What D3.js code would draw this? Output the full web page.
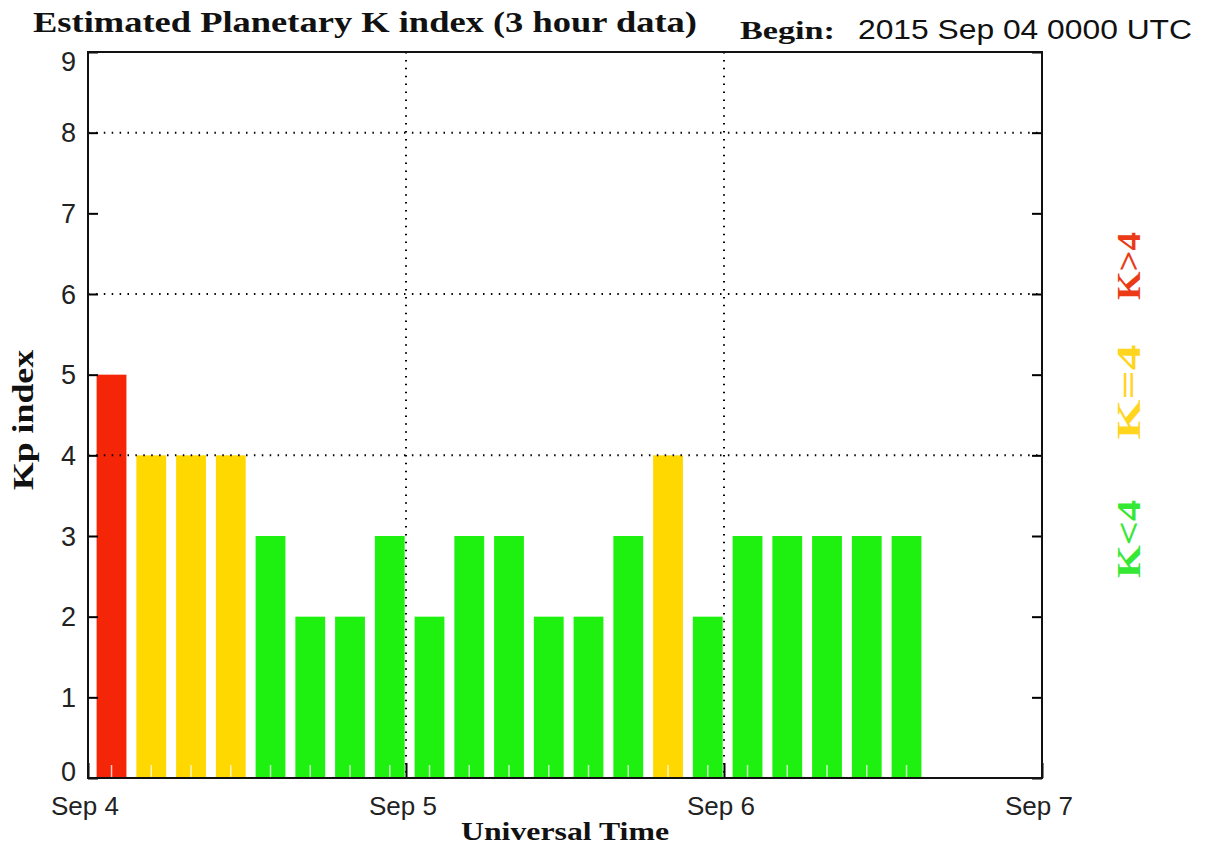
<!DOCTYPE html>
<html>
<head>
<meta charset="utf-8">
<script src="https://cdn.jsdelivr.net/npm/d3@7"></script>
<style>
  body { margin: 0; background: #fff; }
  svg { display: block; }
  .serif { font-family: "Liberation Serif", "DejaVu Serif", serif; font-weight: bold; }
  .sans { font-family: "Liberation Sans", "DejaVu Sans", sans-serif; }
</style>
</head>
<body>
<div class="chart"></div>
<script>
"use strict";

// data
const slots = [
  "2015-09-04T00:00Z", "2015-09-04T03:00Z", "2015-09-04T06:00Z", "2015-09-04T09:00Z",
  "2015-09-04T12:00Z", "2015-09-04T15:00Z", "2015-09-04T18:00Z", "2015-09-04T21:00Z",
  "2015-09-05T00:00Z", "2015-09-05T03:00Z", "2015-09-05T06:00Z", "2015-09-05T09:00Z",
  "2015-09-05T12:00Z", "2015-09-05T15:00Z", "2015-09-05T18:00Z", "2015-09-05T21:00Z",
  "2015-09-06T00:00Z", "2015-09-06T03:00Z", "2015-09-06T06:00Z", "2015-09-06T09:00Z",
  "2015-09-06T12:00Z"
];
const kp = [5, 4, 4, 4, 3, 2, 2, 3, 2, 3, 3, 2, 2, 3, 4, 2, 3, 3, 3, 3, 3];
const dayTicks = ["2015-09-04T00:00Z", "2015-09-05T00:00Z", "2015-09-06T00:00Z", "2015-09-07T00:00Z"];
const dayLabels = ["Sep 4", "Sep 5", "Sep 6", "Sep 7"];
const yTicks = [0, 1, 2, 3, 4, 5, 6, 7, 8, 9];
const yGrid = [4, 6, 8];
const legendItems = ["K>4", "K=4", "K<4"];

const W = 1207, H = 850;
const MARGIN = { top: 52, right: 165, bottom: 72, left: 88 };
const WIDTH = W - MARGIN.left - MARGIN.right,
  HEIGHT = H - MARGIN.top - MARGIN.bottom;

const HOUR = 3600 * 1000;
const parse = (s) => new Date(s);

const xScale = d3.scaleUtc()
  .domain([parse(dayTicks[0]), parse(dayTicks[3])])
  .range([0, WIDTH]);
const yScale = d3.scaleLinear().domain([0, 9]).range([HEIGHT, 0]);

const RED = "#f52507", YELLOW = "#ffd800", GREEN = "#1ef00f";
const colorOf = (v) => (v > 4 ? RED : v === 4 ? YELLOW : GREEN);
const legendColor = d3.scaleOrdinal().domain(legendItems).range(["#ea3a16", "#ffd51e", "#35e833"]);

const root = d3.select(".chart").append("svg").attr("width", W).attr("height", H);

// titles
root.append("text").attr("class", "serif")
  .attr("x", 33).attr("y", 32)
  .attr("font-size", 29).attr("textLength", 664).attr("lengthAdjust", "spacingAndGlyphs")
  .attr("fill", "#111")
  .text("Estimated Planetary K index (3 hour data)");
root.append("text").attr("class", "serif")
  .attr("x", 740).attr("y", 39)
  .attr("font-size", 25).attr("textLength", 95).attr("lengthAdjust", "spacingAndGlyphs")
  .attr("fill", "#111")
  .text("Begin:");
root.append("text").attr("class", "sans")
  .attr("x", 858).attr("y", 39)
  .attr("font-size", 27).attr("textLength", 334).attr("lengthAdjust", "spacingAndGlyphs")
  .attr("fill", "#111")
  .text("2015 Sep 04 0000 UTC");

const svg = root.append("g")
  .attr("transform", "translate(" + MARGIN.left + "," + MARGIN.top + ")");

// bars
const data = slots.map((s, i) => ({ t: parse(s), v: kp[i] }));
const x0 = (d) => xScale(new Date(+d.t + 0.65 * HOUR));
const x1 = (d) => xScale(new Date(+d.t + 2.9 * HOUR));

svg.selectAll("rect.bar")
  .data(data)
  .enter()
  .append("rect")
  .attr("class", "bar")
  .attr("x", x0)
  .attr("width", (d) => x1(d) - x0(d))
  .attr("y", (d) => yScale(d.v))
  .attr("height", (d) => HEIGHT - yScale(d.v))
  .style("fill", (d) => colorOf(d.v));

// pale minor ticks at bar centres
svg.selectAll("line.minor")
  .data(data)
  .enter()
  .append("line")
  .attr("x1", (d) => (x0(d) + x1(d)) / 2)
  .attr("x2", (d) => (x0(d) + x1(d)) / 2)
  .attr("y1", HEIGHT - 13)
  .attr("y2", HEIGHT)
  .style("stroke", "rgba(255,255,255,0.75)")
  .style("stroke-width", 1.5);

// dotted grid
svg.selectAll("line.hgrid")
  .data(yGrid)
  .enter()
  .append("line")
  .attr("x1", 0).attr("x2", WIDTH)
  .attr("y1", (d) => yScale(d)).attr("y2", (d) => yScale(d))
  .style("stroke", "#000").style("stroke-width", 2)
  .style("stroke-dasharray", "1.5,6.4");

svg.selectAll("line.vgrid")
  .data(dayTicks.slice(1, 3))
  .enter()
  .append("line")
  .attr("x1", (d) => xScale(parse(d))).attr("x2", (d) => xScale(parse(d)))
  .attr("y1", 0).attr("y2", HEIGHT)
  .style("stroke", "#000").style("stroke-width", 2)
  .style("stroke-dasharray", "1.5,6.4");

// axes (ticks point inward)
svg.append("g")
  .call(d3.axisLeft(yScale).tickValues(yTicks).tickSize(-10).tickFormat(""))
  .call((g) => g.select(".domain").remove())
  .selectAll("line").style("stroke-width", 2);
svg.append("g")
  .attr("transform", `translate(${WIDTH},0)`)
  .call(d3.axisRight(yScale).tickValues(yTicks).tickSize(-10).tickFormat(""))
  .call((g) => g.select(".domain").remove())
  .selectAll("line").style("stroke-width", 2);
svg.append("g")
  .attr("transform", `translate(0,${HEIGHT})`)
  .call(d3.axisBottom(xScale).tickValues(dayTicks.map(parse)).tickSize(-15).tickFormat(""))
  .call((g) => g.select(".domain").remove())
  .selectAll("line").style("stroke-width", 2);

// frame
svg.append("rect")
  .attr("width", WIDTH).attr("height", HEIGHT)
  .style("fill", "none").style("stroke", "#111").style("stroke-width", 2);

// y tick labels (kept inside the frame height)
svg.selectAll("text.ylab")
  .data(yTicks)
  .enter()
  .append("text")
  .attr("class", "sans")
  .attr("x", -12)
  .attr("y", (d) => Math.min(HEIGHT - 7, Math.max(9, yScale(d))))
  .attr("dy", "0.36em")
  .attr("text-anchor", "end")
  .attr("font-size", 27)
  .attr("fill", "#222")
  .text((d) => d);

// x tick labels
svg.selectAll("text.xlab")
  .data(dayTicks)
  .enter()
  .append("text")
  .attr("class", "sans")
  .attr("x", (d) => xScale(parse(d)) - 3)
  .attr("y", HEIGHT + 37)
  .attr("text-anchor", "middle")
  .attr("font-size", 26)
  .attr("fill", "#222")
  .text((d, i) => dayLabels[i]);

// axis titles
svg.append("text").attr("class", "serif")
  .attr("x", WIDTH / 2).attr("y", HEIGHT + 62)
  .attr("text-anchor", "middle").attr("font-size", 26)
  .attr("textLength", 208).attr("lengthAdjust", "spacingAndGlyphs")
  .attr("fill", "#111")
  .text("Universal Time");
svg.append("text").attr("class", "serif")
  .attr("transform", `translate(-55,${yScale(4.5) + 5}) rotate(-90)`)
  .attr("text-anchor", "middle").attr("font-size", 29)
  .attr("textLength", 140).attr("lengthAdjust", "spacingAndGlyphs")
  .attr("fill", "#111")
  .text("Kp index");

// legend on the right, read bottom-up
const legendY = [266, 392, 539];
const legendLen = [68, 95, 78];
root.selectAll("text.legend")
  .data(legendItems)
  .enter()
  .append("text")
  .attr("class", "serif")
  .attr("transform", (d, i) => `translate(1140,${legendY[i]}) rotate(-90)`)
  .attr("text-anchor", "middle")
  .attr("font-size", 34)
  .attr("textLength", (d, i) => legendLen[i])
  .attr("lengthAdjust", "spacingAndGlyphs")
  .style("fill", (d) => legendColor(d))
  .text((d) => d);
</script>
</body>
</html>
